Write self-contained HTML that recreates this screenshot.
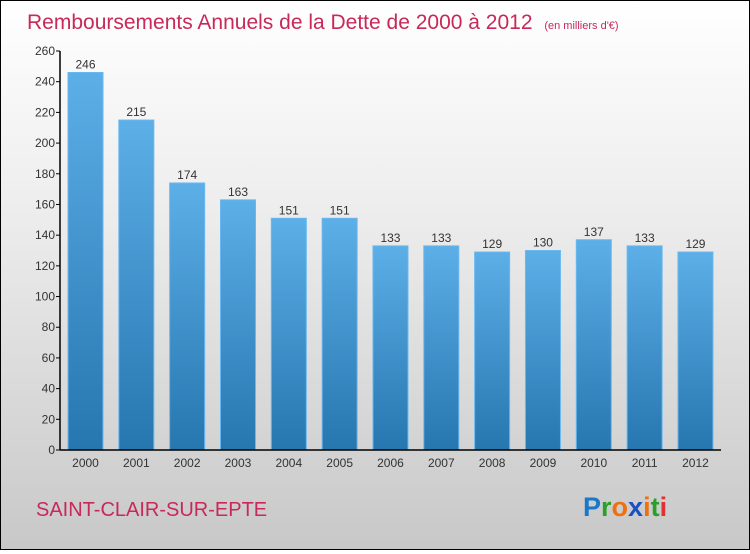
<!DOCTYPE html>
<html><head><meta charset="utf-8"><style>
body{margin:0;width:750px;height:550px;overflow:hidden}
#c{position:relative;width:748px;height:548px;border:1px solid #000;background:linear-gradient(#fff,#ececec 40%,#c8c8c8);font-family:"Liberation Sans",sans-serif}
</style></head><body>
<div id="c">
<svg width="748" height="548" id="s">
<defs><linearGradient id="bg" x1="0" y1="0" x2="0" y2="1"><stop offset="0" stop-color="#5dafe8"/><stop offset="1" stop-color="#2676b0"/></linearGradient></defs>
<text x="26" y="28" font-size="21" fill="#c8285a">Remboursements Annuels de la Dette de 2000 à 2012 <tspan font-size="11" dx="6">(en milliers d'€)</tspan></text>
<text x="35" y="515" font-size="20" fill="#c8285a">SAINT-CLAIR-SUR-EPTE</text>
<text x="582" y="515" font-size="27" font-weight="bold"><tspan fill="#1a78c8">P</tspan><tspan fill="#2aa02a">r</tspan><tspan fill="#f07010">o</tspan><tspan fill="#1a50c0">x</tspan><tspan fill="#f07010">i</tspan><tspan fill="#2aa02a">t</tspan><tspan fill="#e03030">i</tspan></text>
<g id="g"></g>
</svg></div>
<script>
const categories=["2000","2001","2002","2003","2004","2005","2006","2007","2008","2009","2010","2011","2012"];
const values=[246,215,174,163,151,151,133,133,129,130,137,133,129];
const ticks=[0,20,40,60,80,100,120,140,160,180,200,220,240,260];
const NS="http://www.w3.org/2000/svg",g=document.getElementById('g');
const y0=449,ymax=260,ph=399,x0=59,step=50.83;
const y=v=>y0-v/ymax*ph, x=i=>x0+8+i*step;
function mk(t,a,txt){const e=document.createElementNS(NS,t);for(const k in a)e.setAttribute(k,a[k]);if(txt!==undefined)e.textContent=txt;g.appendChild(e);return e;}
values.forEach((v,i)=>{
 const r=mk('rect',{x:x(i),y:y(v),width:35,height:y0-y(v),fill:'url(#bg)',stroke:'#6ab8ee','stroke-width':1});
 
 
 const t=mk('text',{x:x(i)+17.5,y:y(v)-4,'font-size':12,fill:'#333','text-anchor':'middle'},v);
 
 
 const c=mk('text',{x:x(i)+17.5,y:466,'font-size':12,fill:'#333','text-anchor':'middle'},categories[i]);
 
 
});
ticks.forEach(t=>{
 const l=mk('line',{x1:x0-4,x2:x0,y1:y(t),y2:y(t),stroke:'#000'});
 
 
 const e=mk('text',{x:x0-5,y:y(t)+4,'font-size':12,fill:'#333','text-anchor':'end'},t);
 
 
});
const ya=mk('line',{x1:x0,x2:x0,y1:y(ymax),y2:y0,stroke:'#000','stroke-width':1.5});


const xa=mk('line',{x1:x0,x2:720,y1:y0,y2:y0,stroke:'#000','stroke-width':1.5});


</script>
</body></html>
